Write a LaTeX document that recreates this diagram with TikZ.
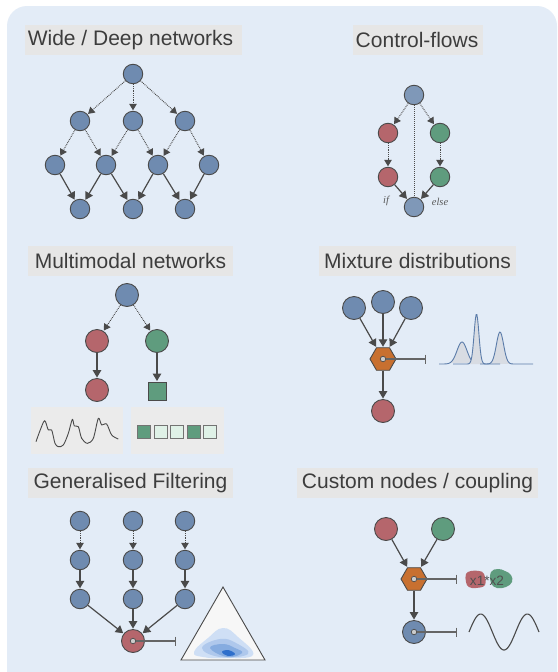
\documentclass[tikz,border=0pt]{standalone}
\usepackage{fontspec}
\setmainfont{Liberation Sans}
\newfontfamily\serifit{Liberation Serif}
\usetikzlibrary{arrows.meta,shapes.geometric}
\definecolor{bgc}{HTML}{E3ECF7}
\definecolor{titlec}{HTML}{E6E6E6}
\definecolor{inkc}{HTML}{3D3D3D}
\definecolor{edgec}{HTML}{4A4A4A}
\definecolor{bluec}{HTML}{6F8BB0}
\definecolor{blueb}{HTML}{7F98B8}
\definecolor{redc}{HTML}{B5666C}
\definecolor{greenc}{HTML}{5F9C7E}
\definecolor{orangec}{HTML}{C87030}
\definecolor{panelc}{HTML}{EBEBEB}
\definecolor{lightg}{HTML}{DFF1E7}
\definecolor{distc}{HTML}{5B7CAA}
\definecolor{distf}{HTML}{D8DCE3}
\definecolor{blobA}{HTML}{CFDFF5}
\definecolor{blobB}{HTML}{AFC8EC}
\definecolor{blobC}{HTML}{86ACE0}
\definecolor{blobD}{HTML}{2F6FCB}
\tikzset{
 x=1pt,y=-1pt,
 nd/.style={circle,draw=edgec,line width=.9pt,minimum size=#1,inner sep=0pt},
 nd/.default=19.5pt,
 bl/.style={nd,fill=bluec},
 blb/.style={nd,fill=blueb},
 rd/.style={nd,fill=redc},
 gr/.style={nd,fill=greenc},
 blL/.style={nd=23pt,fill=bluec},
 rdL/.style={nd=23pt,fill=redc},
 grL/.style={nd=23pt,fill=greenc},
 hexa/.style={regular polygon,regular polygon sides=6,draw=edgec,line width=.9pt,fill=orangec,minimum size=26pt,inner sep=0pt},
 inner/.style={circle,draw=edgec,line width=.7pt,fill=black!20,minimum size=5.5pt,inner sep=0pt},
 titlebox/.style={fill=titlec,text=inkc,font=\fontsize{21}{21}\selectfont,minimum height=30pt,inner sep=0pt,anchor=center},
 solidarrow/.style={-{Triangle[length=7.5pt,width=8.5pt]},draw=edgec,line width=1.2pt,shorten >=.5pt},
 dotarrow/.style={-{Triangle[length=6.5pt,width=7.5pt]},draw=edgec,line width=1pt,dash pattern=on .8pt off 1pt,shorten >=.5pt},
 inhib/.style={-{Bar[width=9pt,length=1pt]},draw=edgec!85,line width=1.1pt},
 plainpanel/.style={fill=panelc,draw=none},
 seq/.style={draw=black!55,line width=.9pt,minimum size=13pt,inner sep=0pt},
 small/.style={font=\serifit\itshape\fontsize{10.5}{11}\selectfont,text=black!65},
}
\begin{document}
\begin{tikzpicture}
\useasboundingbox (0,0) rectangle (557,672);
\fill[white] (0,0) rectangle (557,672);
\fill[bgc,rounded corners=20pt] (7,6) rectangle (557,700);
% titles
\node[titlebox,minimum width=217pt] (t1) at (133.5,40) {Wide / Deep networks\kern6pt};
\node[titlebox,minimum width=130pt] (t2) at (418,40) {Control-flows\kern2pt};
\node[titlebox,minimum width=205pt] (t3) at (130.5,261) {Multimodal networks};
\node[titlebox,minimum width=197pt] (t4) at (417.5,261) {Mixture distributions};
\node[titlebox,minimum width=205pt] (t5) at (130.5,483) {Generalised Filtering};
\node[titlebox,minimum width=241pt] (t6) at (417.5,483) {Custom nodes / coupling};
% panel 1
\node[bl] (a0) at (133,74) {};
\node[bl] (b1) at (80,121) {};
\node[bl] (b2) at (133,121) {};
\node[bl] (b3) at (185,121) {};
\node[bl] (c1) at (55,165) {};
\node[bl] (c2) at (106,165) {};
\node[bl] (c3) at (158,165) {};
\node[bl] (c4) at (209,165) {};
\node[bl] (d1) at (80,209) {};
\node[bl] (d2) at (133,209) {};
\node[bl] (d3) at (185,209) {};
\foreach \p/\q in {a0/b1,a0/b2,a0/b3,b1/c1,b1/c2,b2/c2,b2/c3,b3/c3,b3/c4}
  \draw[dotarrow] (\p) -- (\q);
\foreach \p/\q in {c1/d1,c2/d1,c2/d2,c3/d2,c3/d3,c4/d3}
  \draw[solidarrow] (\p) -- (\q);
% panel 2
\node[blb] (e0) at (414,95) {};
\node[rd] (e1) at (388,133) {};
\node[gr] (e2) at (440,133) {};
\node[rd] (e3) at (388,177) {};
\node[gr] (e4) at (440,177) {};
\node[blb] (e5) at (414,207) {};
\node[small] (eif) at (386,201) {if};
\node[small] (eelse) at (440,202) {else};
\draw[dotarrow] (e0) -- (e1);
\draw[dotarrow] (e0) -- (e2);
\draw[dotarrow] (e1) -- (e3);
\draw[dotarrow] (e2) -- (e4);
\draw[solidarrow] (e3) -- (e5);
\draw[solidarrow] (e4) -- (e5);
\draw[draw=edgec,line width=1pt,dash pattern=on 1.2pt off .8pt] (e0) -- (e5);
% panel 3
\node[blL] (f0) at (127,295) {};
\node[rdL] (f1) at (97,341) {};
\node[grL] (f2) at (157,341) {};
\node[rdL] (f3) at (97,390) {};
\node[draw=edgec,line width=.9pt,fill=greenc,minimum size=18pt,inner sep=0pt] (f4) at (157,391) {};
\draw[dotarrow] (f0) -- (f1);
\draw[dotarrow] (f0) -- (f2);
\draw[solidarrow] (f1) -- (f3);
\draw[solidarrow] (f2) -- (f4);
\fill[plainpanel] (31,407) rectangle (123,454);
\fill[plainpanel] (131,407) rectangle (224,454);
\begin{scope}[shift={(30,400)},x=.3333pt,y=-.3333pt]
\draw[edgec,line width=.9pt,line join=round] plot[smooth,tension=.5] coordinates {(18,125)(30,92)(44,62)(55,90)(65,90)(75,130)(85,140)(100,135)(115,100)(127,58)(133,78)(145,80)(155,115)(172,130)(190,115)(205,55)(215,75)(230,72)(245,105)(265,117)};
\end{scope}
\node[seq,fill=greenc] (s1) at (144,432) {};
\node[seq,fill=lightg] (s2) at (161,432) {};
\node[seq,fill=lightg] (s3) at (177,432) {};
\node[seq,fill=greenc] (s4) at (194,432) {};
\node[seq,fill=lightg] (s5) at (210,432) {};
% panel 4
\node[blL] (g1) at (354,308) {};
\node[blL] (g2) at (383,302) {};
\node[blL] (g3) at (411,308) {};
\node[hexa] (gh) at (383,359) {};
\node[inner] (gi) at (383,359) {};
\node[rdL] (g4) at (383,411) {};
\coordinate (gb) at (426,359);
\draw[solidarrow] (g1) -- (gh);
\draw[solidarrow] (g2) -- (gh);
\draw[solidarrow] (g3) -- (gh);
\draw[solidarrow] (gh) -- (g4);
\draw[inhib] (gi) -- (gb);
\foreach \c/\s/\h/\a/\b in {462/5/22/450/474,476.5/2.4/50/466/488,500/3.6/32/489/512}
  \fill[distf] plot[domain=\a:\b,samples=40] (\x,{364-\h*exp(-((\x-\c)/\s)*((\x-\c)/\s)/2)}) -- cycle;
\draw[distc,line width=.9pt] plot[domain=439:471,samples=50] (\x,{364-22*exp(-((\x-462)/5)*((\x-462)/5)/2)});
\draw[distc,line width=.9pt] plot[domain=453:500,samples=70] (\x,{364-50*exp(-((\x-476.5)/2.4)*((\x-476.5)/2.4)/2)});
\draw[distc,line width=.9pt] plot[domain=480:533,samples=60] (\x,{364-32*exp(-((\x-500)/3.6)*((\x-500)/3.6)/2)});
% panel 5
\foreach \n/\px in {1/80,2/133,3/185}{
  \node[bl] (h\n) at (\px,521) {};
  \node[bl] (i\n) at (\px,560) {};
  \node[bl] (j\n) at (\px,599) {};
  \draw[dotarrow] (h\n) -- (i\n);
  \draw[solidarrow] (i\n) -- (j\n);
}
\node[rdL] (k) at (133,641) {};
\node[inner] (ki) at (133,641) {};
\coordinate (kb) at (176,641);
\draw[solidarrow] (j1) -- (k);
\draw[solidarrow] (j2) -- (k);
\draw[solidarrow] (j3) -- (k);
\draw[inhib] (ki) -- (kb);
\fill[black!3] (223,587) -- (265,660) -- (181,660) -- cycle;
\fill[blobA] plot[smooth cycle,tension=.75] coordinates {(194,652)(208,638)(223,628)(238,637)(253,655)(225,658)(203,657)};
\fill[blobB] plot[smooth cycle,tension=.75] coordinates {(202,648)(220,639)(236,643)(248,654)(220,657)};
\fill[blobC] plot[smooth cycle,tension=.75] coordinates {(210,648)(223,644)(235,648)(242,653)(227,657)};
\fill[blobD] plot[smooth cycle,tension=.75] coordinates {(222,652)(228,650)(235,654)(228,656)};
\draw[edgec,line width=.9pt,line join=miter] (223,587) -- (265,660) -- (181,660) -- cycle;
% panel 6
\node[rdL] (l1) at (386,529) {};
\node[grL] (l2) at (443,529) {};
\node[hexa] (lh) at (414,579) {};
\node[inner] (li) at (414,579) {};
\node[blL] (l3) at (414,632) {};
\node[inner] (l3i) at (414,632) {};
\coordinate (lb) at (457,579);
\coordinate (lc) at (457,632);
\draw[solidarrow] (l1) -- (lh);
\draw[solidarrow] (l2) -- (lh);
\draw[solidarrow] (lh) -- (l3);
\draw[inhib] (li) -- (lb);
\draw[inhib] (l3i) -- (lc);
\fill[redc] plot[smooth cycle,tension=.7] coordinates {(466,574)(471,571)(479,571)(484,574)(485,585)(476,588)(469,587)(466,582)};
\fill[greenc] plot[smooth cycle,tension=.7] coordinates {(491,572)(498,569)(505,571)(511,575)(512,582)(506,587)(497,588)(491,583)};
\node[text=inkc!90,font=\fontsize{13.6}{14}\selectfont,inner sep=0pt] (lt) at (487,580.5) {x1*x2};
\draw[edgec,line width=1.1pt] plot[domain=0:70,samples=70] ({469+\x},{632-18*sin(\x/70*540)});
\end{tikzpicture}
\end{document}
